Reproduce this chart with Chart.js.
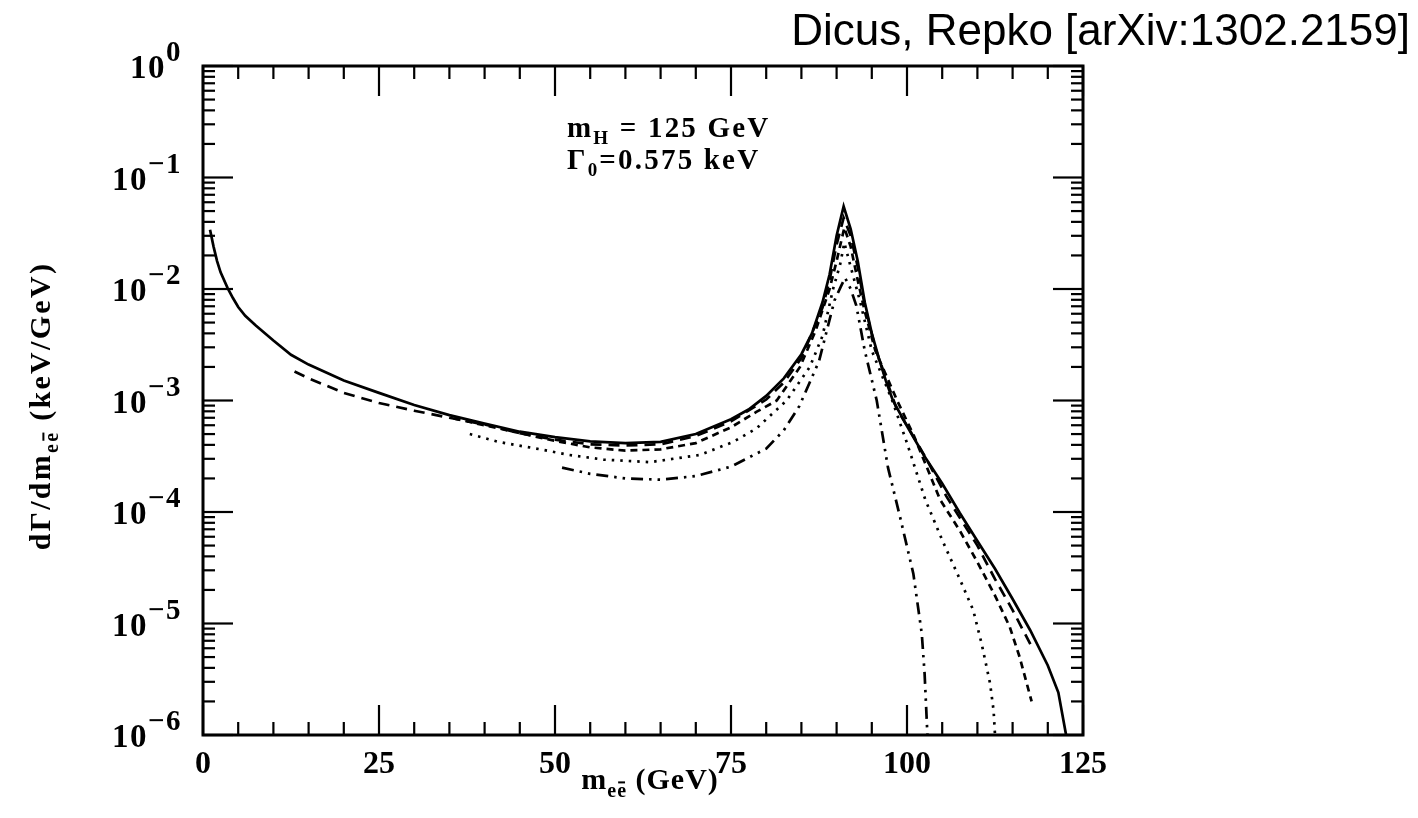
<!DOCTYPE html>
<html lang="en">
<head>
<meta charset="UTF-8">
<title>dGamma/dm_ee, m_H = 125 GeV</title>
<script src="https://cdn.jsdelivr.net/npm/chart.js"></script>
<style>
    html, body { margin: 0; padding: 0; background: #fff; }
    #c { display: block; }
</style>
</head>
<body>
<canvas id="c" width="1418" height="818"></canvas>
<script>
// curves (x in GeV, y in keV/GeV)
const solidX = [1, 1.5, 2, 2.5, 3.5, 4.25, 5, 6, 7.5, 10, 12.5, 15, 17.5, 20, 25, 30, 35, 40, 45, 50, 55, 60, 65, 70, 75, 77.5, 80, 82.5, 85, 86.5, 88, 89, 90, 91, 92, 93, 94, 95, 96, 97, 98, 100, 102.5, 105, 107.5, 110, 112.5, 115, 117.5, 120, 121.5, 122.6];
const solidY = [3.4e-2, 2.4e-2, 1.78e-2, 1.41e-2, 1.02e-2, 8.3e-3, 6.9e-3, 5.75e-3, 4.7e-3, 3.45e-3, 2.57e-3, 2.1e-3, 1.78e-3, 1.51e-3, 1.17e-3, 9.1e-4, 7.4e-4, 6.2e-4, 5.25e-4, 4.7e-4, 4.3e-4, 4.15e-4, 4.25e-4, 5.0e-4, 6.8e-4, 8.3e-4, 1.1e-3, 1.58e-3, 2.6e-3, 4.0e-3, 7.6e-3, 1.35e-2, 3.0e-2, 5.5e-2, 3.45e-2, 1.78e-2, 7.6e-3, 4.0e-3, 2.4e-3, 1.5e-3, 1.0e-3, 5.9e-4, 3.15e-4, 1.8e-4, 9.8e-5, 5.5e-5, 3.1e-5, 1.66e-5, 8.7e-6, 4.2e-6, 2.4e-6, 1.0e-6];

const dashX = [13, 15, 20, 25, 30, 35, 40, 45, 50, 55, 60, 65, 70, 75, 80, 82.5, 85, 88, 89, 90, 91, 92, 93, 94, 95.5, 98.5, 100.4, 103, 105.6, 110, 112.5, 115, 117.7];
const dashY = [1.82e-3, 1.58e-3, 1.17e-3, 9.5e-4, 8.1e-4, 7.0e-4, 6.1e-4, 5.1e-4, 4.45e-4, 4.05e-4, 3.95e-4, 4.05e-4, 4.8e-4, 6.5e-4, 1.02e-3, 1.45e-3, 2.4e-3, 6.8e-3, 1.2e-2, 2.5e-2, 4.35e-2, 3.0e-2, 1.58e-2, 7.1e-3, 2.95e-3, 8.5e-4, 5.4e-4, 2.8e-4, 1.38e-4, 5.0e-5, 2.5e-5, 1.32e-5, 6.2e-6];

const shortX = [35.6, 40, 45, 50, 55, 60, 65, 70, 75, 78.6, 81.5, 84.8, 87, 89, 90, 91.1, 92, 93, 94, 95.5, 98.6, 101, 104.7, 107.5, 110, 112.5, 114.6, 116, 117.7];
const shortY = [6.9e-4, 6.0e-4, 5.1e-4, 4.35e-4, 3.8e-4, 3.55e-4, 3.65e-4, 4.15e-4, 5.75e-4, 7.9e-4, 1.0e-3, 2.0e-3, 4.2e-3, 1.0e-2, 1.78e-2, 3.55e-2, 2.4e-2, 1.2e-2, 6.3e-3, 2.8e-3, 1.0e-3, 4.8e-4, 1.29e-4, 6.8e-5, 3.55e-5, 1.78e-5, 9.3e-6, 5.0e-6, 2.0e-6];

const dotX = [37.9, 42, 47.9, 52, 56.9, 63.5, 70.6, 75.3, 78.6, 82.9, 86.2, 88, 89.5, 90.5, 91.1, 92, 93.3, 95, 97.9, 100, 102.6, 105, 107.5, 109.4, 110.6, 111.8, 112.3, 112.5];
const dotY = [5.0e-4, 4.25e-4, 3.65e-4, 3.25e-4, 2.95e-4, 2.8e-4, 3.25e-4, 4.25e-4, 5.6e-4, 1.0e-3, 2.0e-3, 3.8e-3, 1.0e-2, 1.66e-2, 2.6e-2, 1.58e-2, 7.9e-3, 2.8e-3, 1.0e-3, 4.15e-4, 1.29e-4, 5.6e-5, 2.5e-5, 1.32e-5, 6.6e-6, 2.9e-6, 1.66e-6, 1.0e-6];

const ddotX = [51, 55, 60, 65, 70, 75, 80, 82.5, 84.7, 87.5, 89.7, 90.6, 91.2, 92, 92.8, 94, 95.7, 97.3, 99, 100.9, 102.1, 102.5, 102.9];
const ddotY = [2.5e-4, 2.2e-4, 2.0e-4, 1.95e-4, 2.1e-4, 2.55e-4, 3.7e-4, 5.4e-4, 8.9e-4, 2.25e-3, 7.9e-3, 1.05e-2, 1.26e-2, 1.0e-2, 7.1e-3, 2.8e-3, 1.0e-3, 2.5e-4, 9.1e-5, 2.8e-5, 8.1e-6, 3.55e-6, 1.0e-6];

const xLabels = [0, 25, 50, 75, 100, 125];
const yPowers = [0, -1, -2, -3, -4, -5, -6];

const serif = '"Liberation Serif", "DejaVu Serif", serif';

function mk(xs, ys, dash) {
    return {
        data: xs.map((v, i) => ({ x: v, y: ys[i] })),
        showLine: true,
        borderColor: '#000',
        borderWidth: 2.7,
        borderDash: dash,
        pointRadius: 0,
        fill: false,
        tension: 0
    };
}

// draw a row of text pieces (sub/superscripts), optional overbar on last char
function runs(ctx, parts, x, y, align, sp) {
    ctx.letterSpacing = (sp || 0) + 'px';
    let w = 0;
    parts.forEach(p => {
        ctx.font = `bold ${p.s}px ${serif}`;
        p.w = ctx.measureText(p.t).width;
        w += p.w;
    });
    let cx = align === 'right' ? x - w : align === 'center' ? x - w / 2 : x;
    parts.forEach(p => {
        ctx.font = `bold ${p.s}px ${serif}`;
        ctx.fillText(p.t, cx, y + (p.dy || 0));
        if (p.bar) {
            const cw = ctx.measureText(p.t.slice(-1)).width;
            ctx.fillRect(cx + p.w - cw + 1, y + (p.dy || 0) - p.s * 0.78, cw - 3, 2);
        }
        cx += p.w;
    });
    ctx.letterSpacing = '0px';
}

const frame = {
    id: 'frame',
    afterDraw(chart) {
        const { ctx, chartArea: a, scales: { x, y } } = chart;
        ctx.save();
        ctx.strokeStyle = '#000';
        ctx.fillStyle = '#000';
        ctx.lineCap = 'butt';

        const seg = (x1, y1, x2, y2) => { ctx.beginPath(); ctx.moveTo(x1, y1); ctx.lineTo(x2, y2); ctx.stroke(); };

        // ticks, inward on all four sides
        ctx.lineWidth = 2.2;
        for (let v = 0; v <= 125; v += 5) {
            const px = x.getPixelForValue(v);
            const len = v % 25 === 0 ? 30 : 13;
            seg(px, a.bottom, px, a.bottom - len);
            seg(px, a.top, px, a.top + len);
        }
        yPowers.forEach(e => {
            for (let m = 1; m <= 9; m++) {
                const v = m * Math.pow(10, e);
                if (v > 1.0000001) break;
                const py = y.getPixelForValue(v);
                const len = m === 1 ? 30 : 12;
                seg(a.left, py, a.left + len, py);
                seg(a.right, py, a.right - len, py);
            }
        });

        ctx.lineWidth = 3;
        ctx.strokeRect(a.left, a.top, a.right - a.left, a.bottom - a.top);

        // tick labels
        ctx.textAlign = 'left';
        ctx.textBaseline = 'alphabetic';
        xLabels.forEach(v => {
            runs(ctx, [{ t: String(v), s: 32 }], x.getPixelForValue(v), a.bottom + 38, 'center');
        });
        yPowers.forEach(e => {
            const py = y.getPixelForValue(Math.pow(10, e));
            const sup = e === 0 ? '0' : '\u2212' + (-e);
            runs(ctx, [{ t: '10', s: 33 }, { t: sup, s: 29, dy: -17 }], 182, py + 12, 'right', 1.5);
        });

        // axis titles
        runs(ctx, [{ t: 'm', s: 30 }, { t: 'e', s: 20, dy: 8 }, { t: 'e', s: 20, dy: 8, bar: true }, { t: ' (GeV)', s: 30 }],
            x.getPixelForValue(63.5), 789, 'center', 1);
        ctx.save();
        ctx.translate(50, 406);
        ctx.rotate(-Math.PI / 2);
        runs(ctx, [{ t: 'd\u0393/dm', s: 30 }, { t: 'e', s: 20, dy: 8 }, { t: 'e', s: 20, dy: 8, bar: true }, { t: ' (keV/GeV)', s: 30 }],
            0, 0, 'center', 2.3);
        ctx.restore();

        // in-plot note
        runs(ctx, [{ t: 'm', s: 29 }, { t: 'H', s: 19, dy: 7 }, { t: ' = 125 GeV', s: 29 }], 567, 137, 'left', 2.2);
        runs(ctx, [{ t: '\u0393', s: 29 }, { t: '0', s: 19, dy: 7 }, { t: '=0.575 keV', s: 29 }], 567, 169, 'left', 2.2);

        // reference line at top right
        ctx.font = '44px "Liberation Sans", Arial, sans-serif';
        ctx.textAlign = 'right';
        ctx.fillText('Dicus, Repko [arXiv:1302.2159]', 1410, 45);
        ctx.restore();
    }
};

new Chart(document.getElementById('c'), {
    type: 'scatter',
    data: {
        datasets: [
            mk(solidX, solidY, []),
            mk(dashX, dashY, [11, 7]),
            mk(shortX, shortY, [7, 5]),
            mk(dotX, dotY, [2.5, 6]),
            mk(ddotX, ddotY, [12, 6, 2.5, 6, 2.5, 6])
        ]
    },
    options: {
        responsive: false,
        animation: false,
        devicePixelRatio: 1,
        layout: { padding: { left: 203, right: 335, top: 66, bottom: 83 } },
        plugins: { legend: { display: false }, tooltip: { enabled: false } },
        scales: {
            x: { type: 'linear', min: 0, max: 125, display: false },
            y: { type: 'logarithmic', min: 1e-6, max: 1, display: false }
        }
    },
    plugins: [frame]
});
</script>
</body>
</html>
